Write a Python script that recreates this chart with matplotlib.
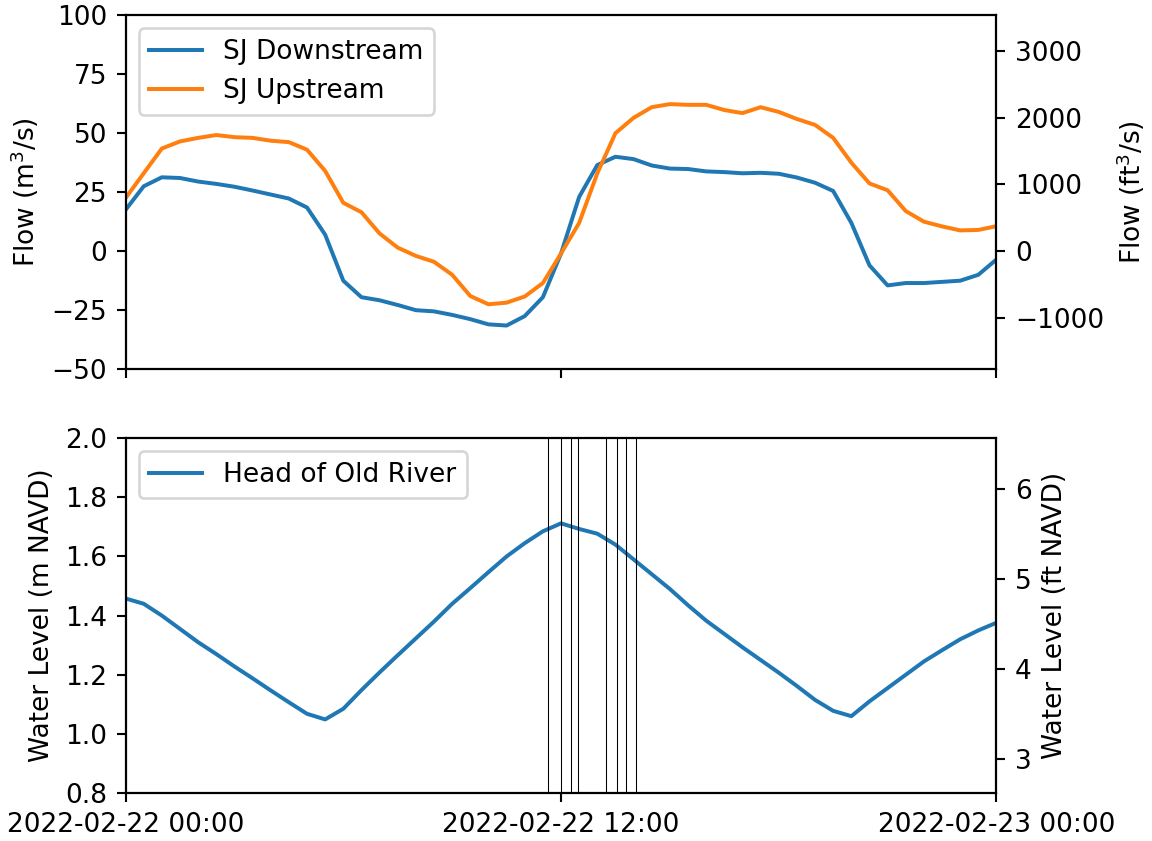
import matplotlib

matplotlib.use("Agg")
import matplotlib.dates as mdates
import matplotlib.pyplot as plt
import pandas as pd

M3_TO_FT3 = 35.3147
M_TO_FT = 3.28084

# half-hourly samples over one day
times = pd.date_range("2022-02-22 00:00", "2022-02-23 00:00", freq="30min")

sj_downstream = [
    17.5, 27.5, 31.3, 31.0, 29.5, 28.5, 27.3, 25.7, 24.0, 22.3,
    18.5, 7.0, -12.5, -19.5, -20.8, -22.8, -25.0, -25.5, -27.0, -28.8,
    -31.0, -31.5, -27.5, -19.5, -1.0, 23.0, 36.5, 40.0, 39.0, 36.3,
    35.0, 34.8, 33.8, 33.5, 33.0, 33.2, 32.8, 31.2, 29.0, 25.5,
    12.0, -6.0, -14.5, -13.5, -13.5, -13.0, -12.5, -10.0, -3.5,
]
sj_upstream = [
    22.5, 33.0, 43.5, 46.5, 48.0, 49.2, 48.3, 48.0, 46.8, 46.2,
    43.0, 34.0, 20.5, 16.5, 7.5, 1.5, -2.0, -4.5, -10.0, -19.0,
    -22.5, -21.8, -19.2, -13.5, -1.0, 12.0, 33.0, 50.0, 56.5, 61.0,
    62.3, 62.0, 62.0, 59.8, 58.5, 61.0, 59.0, 56.0, 53.5, 48.0,
    37.5, 28.7, 25.8, 17.0, 12.5, 10.5, 8.8, 9.0, 10.6,
]
head_old_river = [
    1.458, 1.440, 1.400, 1.355, 1.310, 1.270, 1.228, 1.188, 1.147, 1.107,
    1.068, 1.049, 1.085, 1.148, 1.208, 1.266, 1.323, 1.380, 1.440, 1.493,
    1.547, 1.600, 1.645, 1.685, 1.712, 1.693, 1.677, 1.640, 1.590, 1.540,
    1.490, 1.435, 1.383, 1.338, 1.293, 1.250, 1.207, 1.162, 1.115, 1.078,
    1.060, 1.110, 1.155, 1.200, 1.245, 1.283, 1.320, 1.350, 1.376,
]

marker_times = [
    "2022-02-22 11:39", "2022-02-22 12:00", "2022-02-22 12:16", "2022-02-22 12:28",
    "2022-02-22 13:15", "2022-02-22 13:32", "2022-02-22 13:48", "2022-02-22 14:04",
]

DPI = 190
fig = plt.figure(figsize=(1152 / DPI, 841 / DPI), dpi=DPI)
ax_flow = fig.add_axes([0.109, 0.561, 0.756, 0.421])
ax_wl = fig.add_axes([0.109, 0.057, 0.756, 0.422], sharex=ax_flow)

ax_flow.plot(times, sj_downstream, color="tab:blue", label="SJ Downstream")
ax_flow.plot(times, sj_upstream, color="tab:orange", label="SJ Upstream")
ax_flow.set_ylim(-50, 100)
ax_flow.set_yticks([-50, -25, 0, 25, 50, 75, 100])
ax_flow.set_ylabel("Flow (m$^3$/s)")
ax_flow.legend(loc="upper left")
ax_flow.tick_params(axis="x", labelbottom=False)

ax_flow_ft = ax_flow.twinx()
ax_flow_ft.set_ylim(-50 * M3_TO_FT3, 100 * M3_TO_FT3)
ax_flow_ft.set_yticks([-1000, 0, 1000, 2000, 3000])
ax_flow_ft.set_ylabel("Flow (ft$^3$/s)")

ax_wl.plot(times, head_old_river, color="tab:blue", label="Head of Old River")
for t in marker_times:
    ax_wl.axvline(pd.Timestamp(t), color="black", lw=0.4)
ax_wl.set_ylim(0.8, 2.0)
ax_wl.set_ylabel("Water Level (m NAVD)")
ax_wl.legend(loc="upper left")

ax_wl_ft = ax_wl.twinx()
ax_wl_ft.set_ylim(0.8 * M_TO_FT, 2.0 * M_TO_FT)
ax_wl_ft.set_yticks([3, 4, 5, 6])
ax_wl_ft.set_ylabel("Water Level (ft NAVD)")

ax_wl.set_xlim(times[0], times[-1])
ax_wl.set_xticks([times[0], times[24], times[-1]])
ax_wl.xaxis.set_major_formatter(mdates.DateFormatter("%Y-%m-%d %H:%M"))

fig.savefig("out.png", dpi=DPI)
